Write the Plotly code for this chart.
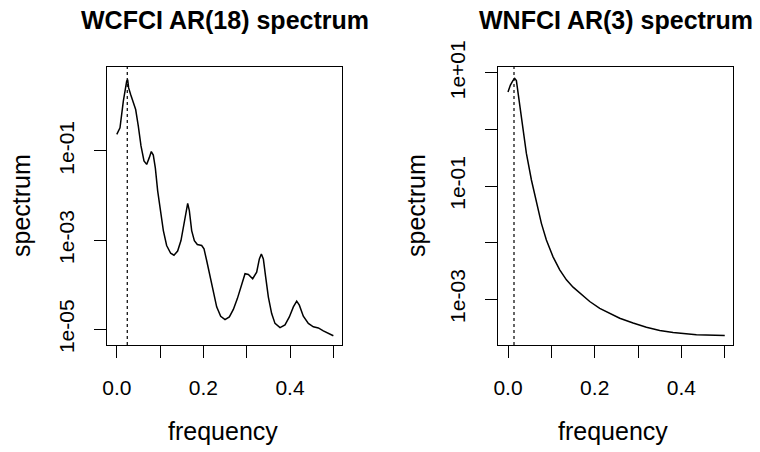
import plotly.graph_objects as go

# ---- data ----
wc_freq = [0.0, 0.0074, 0.0151, 0.0197, 0.0228, 0.0251, 0.0274, 0.032, 0.0382, 0.0436,
           0.0497, 0.0559, 0.0628, 0.069, 0.075, 0.0797, 0.0843, 0.089, 0.0944, 0.0998,
           0.1075, 0.1151, 0.1244, 0.132, 0.1405, 0.1482, 0.1552, 0.1606, 0.1637, 0.1675,
           0.1729, 0.1791, 0.186, 0.196, 0.2014, 0.2075, 0.2152, 0.2229, 0.2306, 0.2399,
           0.2499, 0.2599, 0.2691, 0.2784, 0.2884, 0.2961, 0.3038, 0.3138, 0.323, 0.3292,
           0.3338, 0.3384, 0.3438, 0.35, 0.3576, 0.3653, 0.3769, 0.3884, 0.3984, 0.4077,
           0.4154, 0.4215, 0.4307, 0.4423, 0.4538, 0.4654, 0.4769, 0.4885, 0.5]
wc_spec = [0.236, 0.33, 1.31, 2.8, 3.65, 4.0, 2.6, 1.84, 1.2, 0.85,
           0.36, 0.13, 0.06, 0.050, 0.071, 0.097, 0.081, 0.042, 0.0128, 0.0054,
           1.64e-3, 7.6e-4, 5.1e-4, 4.6e-4, 5.7e-4, 9.8e-4, 2.5e-3, 5.4e-3, 6.7e-3, 4.6e-3,
           1.64e-3, 9.8e-4, 8.0e-4, 7.6e-4, 6.4e-4, 3.5e-4, 1.49e-4, 6.3e-5, 3.2e-5, 1.97e-5,
           1.66e-5, 1.9e-5, 2.8e-5, 4.9e-5, 1.06e-4, 1.77e-4, 1.7e-4, 1.37e-4, 1.92e-4, 3.8e-4,
           4.9e-4, 3.8e-4, 1.49e-4, 5.3e-5, 2.26e-5, 1.36e-5, 1.1e-5, 1.26e-5, 1.9e-5, 3.2e-5,
           4.3e-5, 3.5e-5, 1.97e-5, 1.36e-5, 1.14e-5, 1.08e-5, 9.3e-6, 8.1e-6, 7.2e-6]
wc_peak = 0.0242

wn_freq = [0.0, 0.0055, 0.0116, 0.0154, 0.0193, 0.0231, 0.0285, 0.0347, 0.0424, 0.054,
           0.0655, 0.077, 0.0885, 0.1039, 0.1193, 0.1347, 0.1501, 0.1655, 0.1885, 0.2116,
           0.2346, 0.2577, 0.2885, 0.3192, 0.35, 0.3808, 0.4346, 0.5]
wn_spec = [4.6, 6.1, 7.4, 8.0, 7.3, 4.6, 2.2, 0.975, 0.378, 0.128,
           0.0495, 0.0219, 0.0111, 5.6e-3, 3.3e-3, 2.2e-3, 1.63e-3, 1.28e-3, 9.1e-4, 6.9e-4,
           5.7e-4, 4.6e-4, 3.8e-4, 3.2e-4, 2.8e-4, 2.57e-4, 2.34e-4, 2.28e-4]
wn_peak = 0.0138

titles = ["WCFCI AR(18) spectrum", "WNFCI AR(3) spectrum"]
x_title = "frequency"
y_title = "spectrum"
x_ticks = [0.0, 0.1, 0.2, 0.3, 0.4, 0.5]
x_ticktext = ["0.0", "", "0.2", "", "0.4", ""]
wc_yticks = [1e-5, 1e-3, 1e-1]
wc_yticktext = ["1e-05", "1e-03", "1e-01"]
wn_yticks = [1e-3, 1e-2, 1e-1, 1e0, 1e1]
wn_yticktext = ["1e-03", "", "1e-01", "", "1e+01"]

# ---- figure ----
W, H = 760, 452
OFF = 0  # body margin removed below, so the figure starts at the window corner
FONT = "Liberation Sans, Arial, sans-serif"


def px(xs):
    return (xs - OFF) / W


def py(ys):
    return 1 - (ys - OFF) / H


fig = go.Figure()
fig.add_trace(go.Scatter(x=wc_freq, y=wc_spec, mode="lines",
                         line=dict(color="black", width=1.5), xaxis="x", yaxis="y",
                         showlegend=False))
fig.add_trace(go.Scatter(x=wn_freq, y=wn_spec, mode="lines",
                         line=dict(color="black", width=1.5), xaxis="x2", yaxis="y2",
                         showlegend=False))

for xr, yr, pk in [("x", "y", wc_peak), ("x2", "y2", wn_peak)]:
    fig.add_shape(type="line", xref=xr, yref=yr + " domain", x0=pk, x1=pk, y0=0, y1=1,
                  line=dict(color="black", width=1.2, dash="3px,3px"))

left_dom = [px(107), px(342)]
right_dom = [px(498), px(733)]
ydom = [py(345), py(66.7)]

axis_common = dict(showline=True, mirror=True, linecolor="black", linewidth=1,
                   ticks="outside", ticklen=12, tickwidth=1, tickcolor="black",
                   showgrid=False, zeroline=False, automargin=False,
                   tickfont=dict(family=FONT, size=21, color="black"))

fig.update_layout(
    width=W, height=H,
    margin=dict(l=0, r=0, t=0, b=0),
    paper_bgcolor="white", plot_bgcolor="white",
    xaxis=dict(domain=left_dom, range=[-0.0226, 0.52], anchor="y",
               tickvals=x_ticks, ticktext=x_ticktext, ticklabelstandoff=12, **axis_common),
    yaxis=dict(domain=ydom, type="log", range=[-5.35, 0.89], anchor="x",
               tickvals=wc_yticks, ticktext=wc_yticktext, tickangle=-90,
               ticklabelstandoff=12, **axis_common),
    xaxis2=dict(domain=right_dom, range=[-0.0231, 0.519], anchor="y2",
                tickvals=x_ticks, ticktext=x_ticktext, ticklabelstandoff=12, **axis_common),
    yaxis2=dict(domain=ydom, type="log", range=[-3.81, 1.11], anchor="x2",
                tickvals=wn_yticks, ticktext=wn_yticktext, tickangle=-90,
                ticklabelstandoff=12, **axis_common),
)

annos = []
for cx, t in [(224.5, titles[0]), (615.5, titles[1])]:
    annos.append(dict(text="<b>" + t + "</b>", x=px(cx), y=py(19.5), xref="paper",
                      yref="paper", showarrow=False, xanchor="center", yanchor="middle",
                      font=dict(family=FONT, size=25, color="black")))
for cx in [223, 613]:
    annos.append(dict(text=x_title, x=px(cx), y=py(431), xref="paper", yref="paper",
                      showarrow=False, xanchor="center", yanchor="middle",
                      font=dict(family=FONT, size=25, color="black")))
for cx in [21, 416]:
    annos.append(dict(text=y_title, x=px(cx), y=py(206), xref="paper", yref="paper",
                      showarrow=False, xanchor="center", yanchor="middle", textangle=-90,
                      font=dict(family=FONT, size=25, color="black")))
fig.update_layout(annotations=annos)

fig.write_html("out.html",
               config={"displayModeBar": False, "staticPlot": True},
               post_script="document.body.style.margin='0';document.body.style.overflow='hidden';")
